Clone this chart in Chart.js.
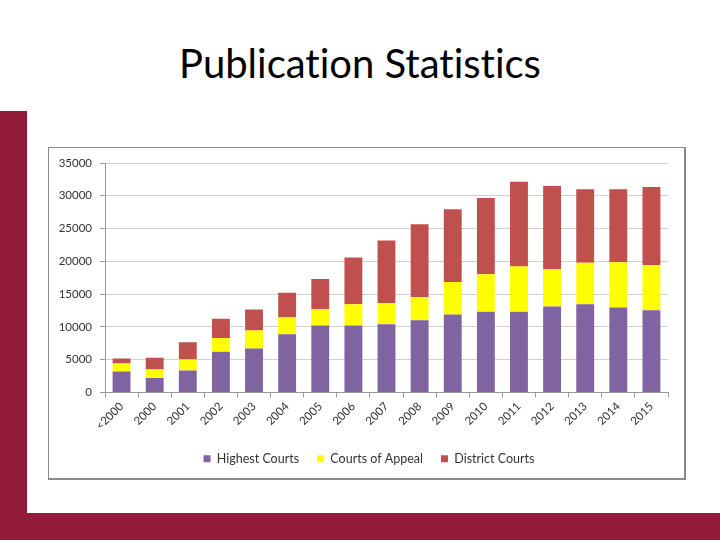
<!DOCTYPE html>
<html>
<head>
<meta charset="utf-8">
<script src="https://cdn.jsdelivr.net/npm/chart.js@4"></script>
<style>
  html, body { margin: 0; padding: 0; background: #fff; }
  #slide { position: relative; width: 720px; height: 540px; overflow: hidden; background: #fff; }
  #leftBar { position: absolute; left: 0; top: 111px; width: 27px; height: 429px; background: #921a3a; }
  #bottomBar { position: absolute; left: 0; top: 513px; width: 720px; height: 27px; background: #921a3a; }
  #title { position: absolute; left: 0; top: 39px; width: 720px; text-align: center;
           font-family: Lato, "Open Sans", sans-serif; font-size: 40px; color: #000; line-height: 48px;
           font-variant-ligatures: none; }
  #box { position: absolute; left: 48px; top: 147px; width: 635px; height: 330px;
         border: 1px solid #8a8a8a; border-right-width: 2px; border-bottom-width: 2px; background: #fff; }
  #wrap { position: absolute; left: 0; top: 0; width: 635px; height: 330px; }
</style>
</head>
<body>
<div id="slide">
  <div id="title">Publication Statistics</div>
  <div id="leftBar"></div>
  <div id="bottomBar"></div>
  <div id="box"><div id="wrap"><canvas id="myChart"></canvas></div></div>
</div>
<script>
const years = ['<2000', '2000', '2001', '2002', '2003', '2004', '2005', '2006', '2007',
               '2008', '2009', '2010', '2011', '2012', '2013', '2014', '2015'];
const highestCourts = [3200, 2200, 3350, 6200, 6700, 8900, 10200, 10200, 10400,
                       11000, 11900, 12300, 12300, 13100, 13450, 12950, 12550];
const courtsOfAppeal = [1230, 1300, 1700, 2100, 2750, 2550, 2500, 3250, 3250,
                        3570, 4950, 5750, 6900, 5700, 6350, 6900, 6900];
const districtCourts = [760, 1800, 2600, 2950, 3200, 3770, 4600, 7130, 9530,
                        11100, 11100, 11600, 12950, 12700, 11200, 11150, 11900];
const yTicks = [0, 5000, 10000, 15000, 20000, 25000, 30000, 35000];

const fontFam = 'Lato, "Open Sans", sans-serif';
const ctx = document.getElementById('myChart').getContext('2d');

const chart = new Chart(ctx, {
    type: 'bar',
    data: {
        labels: years,
        datasets: [{
            label: 'Highest Courts',
            data: highestCourts,
            backgroundColor: '#8064a2'
        }, {
            label: 'Courts of Appeal',
            data: courtsOfAppeal,
            backgroundColor: '#ffff00'
        }, {
            label: 'District Courts',
            data: districtCourts,
            backgroundColor: '#c0504d'
        }]
    },
    options: {
        responsive: true,
        maintainAspectRatio: false,
        animation: false,
        layout: {
            padding: { left: 5, right: 0, top: 15, bottom: 3 }
        },
        datasets: {
            bar: { categoryPercentage: 1, barPercentage: 0.54 }
        },
        scales: {
            x: {
                stacked: true,
                ticks: {
                    color: '#333',
                    font: { family: fontFam, size: 11.5 },
                    minRotation: 45,
                    maxRotation: 45,
                    autoSkip: false,
                    padding: 2
                },
                grid: {
                    drawOnChartArea: false,
                    offset: true,
                    tickLength: 5,
                    tickColor: '#999'
                },
                border: { color: '#999' },
                afterFit: function(scale) { scale.height = 42; }
            },
            y: {
                stacked: true,
                min: 0,
                max: 35000,
                afterBuildTicks: function(scale) {
                    scale.ticks = yTicks.map(function(v) { return { value: v }; });
                },
                ticks: {
                    color: '#333',
                    font: { family: fontFam, size: 11.5 },
                    padding: 8,
                    callback: function(v) { return String(v); }
                },
                grid: {
                    color: '#d0d0d0',
                    tickLength: 5,
                    tickColor: '#999'
                },
                border: { color: '#999' },
                afterFit: function(scale) { scale.width = 51; }
            },
            // empty right-hand margin so the legend stays centred in the box
            yRight: {
                position: 'right',
                display: true,
                ticks: { display: false },
                grid: { display: false },
                border: { display: false },
                afterFit: function(scale) { scale.width = 16; }
            }
        },
        plugins: {
            legend: {
                position: 'bottom',
                labels: {
                    color: '#333',
                    font: { family: fontFam, size: 12.5 },
                    boxWidth: 7,
                    boxHeight: 7,
                    padding: 18
                }
            },
            tooltip: { enabled: false }
        }
    }
});
</script>
</body>
</html>
